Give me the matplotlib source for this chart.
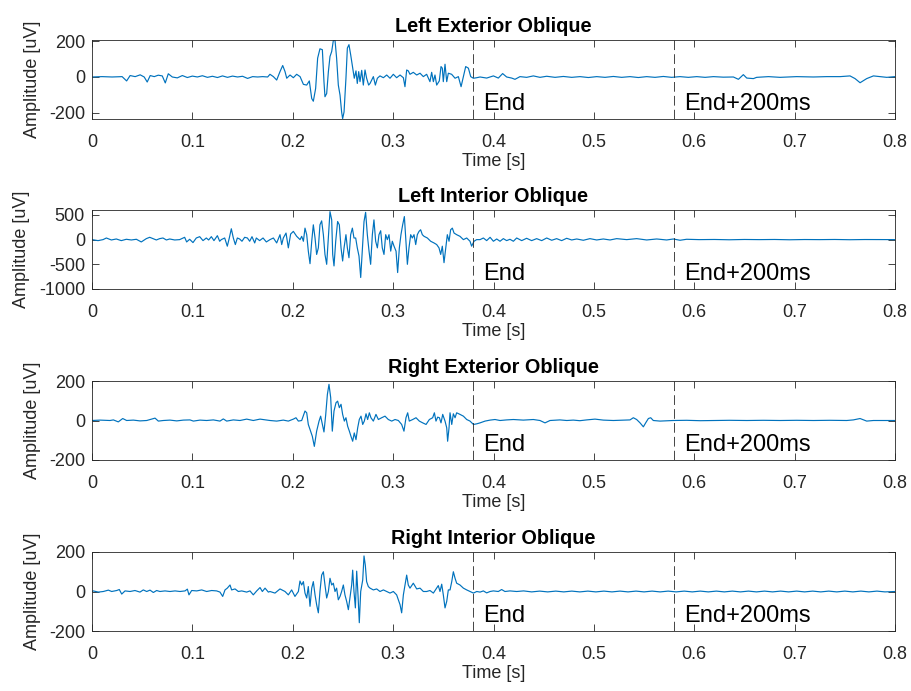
import numpy as np
import matplotlib
matplotlib.use("Agg")
import matplotlib.pyplot as plt

plt.rcParams["font.family"] = ["Liberation Sans", "DejaVu Sans"]
plt.rcParams["lines.scale_dashes"] = False

# ---------------------------------------------------------------------------
# Chart text and axis settings
# ---------------------------------------------------------------------------
TITLES = ["Left Exterior Oblique", "Left Interior Oblique",
          "Right Exterior Oblique", "Right Interior Oblique"]
Y_LIMITS = [(-234, 206), (-1000, 600), (-200, 200), (-200, 200)]
Y_TICKS = [[-200, 0, 200], [-1000, -500, 0, 500], [-200, 0, 200], [-200, 0, 200]]
X_TICKS = [0, 0.1, 0.2, 0.3, 0.4, 0.5, 0.6, 0.7, 0.8]
X_TICK_LABELS = ["0", "0.1", "0.2", "0.3", "0.4", "0.5", "0.6", "0.7", "0.8"]
MARKER_TIMES = [0.38, 0.58]
MARKER_LABELS = ["End", "End+200ms"]

# ---------------------------------------------------------------------------
# EMG traces: (time [s], amplitude [uV])
# ---------------------------------------------------------------------------
LEFT_EXTERIOR = [
    (0.0000, 0), (0.0100, 2), (0.0200, 0), (0.0300, 2), (0.0345, -22), (0.0380, 8),
    (0.0430, 2), (0.0480, 12), (0.0520, 0), (0.0550, -28), (0.0580, 8), (0.0620, 2),
    (0.0660, 10), (0.0700, 6), (0.0730, -33), (0.0760, 18), (0.0800, 0), (0.0850, -5),
    (0.0900, 8), (0.0950, -3), (0.1000, 5), (0.1050, 0), (0.1100, 7), (0.1150, -2),
    (0.1200, 4), (0.1250, -3), (0.1300, 6), (0.1350, -2), (0.1400, 5), (0.1450, 0),
    (0.1500, 4), (0.1550, -8), (0.1600, 2), (0.1650, 0), (0.1700, 2), (0.1750, 0),
    (0.1773, 15), (0.1807, 2), (0.1840, -17), (0.1873, 30), (0.1900, 64), (0.1923, 30),
    (0.1940, -7), (0.1973, 11), (0.2006, -4), (0.2039, 15), (0.2073, 2), (0.2106, -41),
    (0.2139, -45), (0.2165, -22), (0.2189, -120), (0.2205, -135), (0.2228, -64),
    (0.2248, 105), (0.2271, 157), (0.2295, 152), (0.2311, -26), (0.2321, -110),
    (0.2338, -92), (0.2355, 30), (0.2371, 114), (0.2388, 142), (0.2404, 202),
    (0.2421, 205), (0.2437, 105), (0.2454, -45), (0.2471, -101), (0.2487, -195),
    (0.2497, -232), (0.2511, -195), (0.2530, -7), (0.2544, 161), (0.2560, 180),
    (0.2577, 124), (0.2597, 49), (0.2613, -7), (0.2630, 34), (0.2643, -36),
    (0.2657, 30), (0.2670, -26), (0.2687, 37), (0.2703, -45), (0.2720, 39),
    (0.2736, -7), (0.2756, -45), (0.2770, -36), (0.2803, 2), (0.2823, -45),
    (0.2843, -7), (0.2869, 6), (0.2903, -4), (0.2936, 11), (0.2969, -7), (0.3002, 15),
    (0.3035, -4), (0.3069, 11), (0.3102, -4), (0.3118, -54), (0.3135, 39), (0.3151, 34),
    (0.3168, 15), (0.3201, 26), (0.3235, 11), (0.3268, 21), (0.3301, 2), (0.3334, 15),
    (0.3367, -26), (0.3384, 26), (0.3401, -26), (0.3417, 11), (0.3434, -45),
    (0.3460, -22), (0.3477, 58), (0.3490, 49), (0.3500, -26), (0.3517, 71),
    (0.3534, -26), (0.3550, 21), (0.3583, 15), (0.3617, -7), (0.3650, 2),
    (0.3677, -54), (0.3700, 2), (0.3723, 58), (0.3750, 49), (0.3773, 2), (0.3800, -7),
    (0.3833, -4), (0.3866, 0), (0.3932, -6), (0.3999, 6), (0.4048, -6), (0.4091, 19),
    (0.4131, 0), (0.4181, -6), (0.4214, -13), (0.4264, 2), (0.4330, -2), (0.4397, 6),
    (0.4463, -2), (0.4530, 4), (0.4613, -2), (0.4696, 3), (0.4779, -2), (0.4862, 2),
    (0.4945, -3), (0.5028, 2), (0.5111, -2), (0.5194, 3), (0.5277, -2), (0.5360, 2),
    (0.5443, -3), (0.5526, 2), (0.5609, -2), (0.5692, 3), (0.5775, -2), (0.5858, 2),
    (0.5941, -2), (0.6025, 2), (0.6108, -2), (0.6191, 2), (0.6290, -1), (0.6390, 0),
    (0.6440, -13), (0.6489, 13), (0.6523, -6), (0.6589, -9), (0.6622, -2),
    (0.6740, 2), (0.6855, -2), (0.7020, 2), (0.7187, 0), (0.7320, 2), (0.7453, 2),
    (0.7552, 6), (0.7602, -9), (0.7652, -32), (0.7718, -9), (0.7785, 6), (0.7851, 2),
    (0.7918, -2), (0.8000, 2),
]

LEFT_INTERIOR = [
    (0.0000, 0), (0.0060, -20), (0.0110, 0), (0.0143, 33), (0.0193, -7), (0.0242, 13),
    (0.0292, -20), (0.0342, 7), (0.0392, -7), (0.0442, 7), (0.0491, -47), (0.0541, 20),
    (0.0575, 47), (0.0608, 20), (0.0641, -7), (0.0674, 20), (0.0707, 33), (0.0741, -7),
    (0.0774, 13), (0.0824, -7), (0.0873, 0), (0.0923, 47), (0.0943, -47), (0.0973, 7),
    (0.1006, -60), (0.1039, 33), (0.1073, 60), (0.1106, -20), (0.1139, 33),
    (0.1162, -7), (0.1189, 60), (0.1215, -20), (0.1249, 80), (0.1272, -33),
    (0.1288, 0), (0.1322, 33), (0.1348, -133), (0.1368, 33), (0.1388, 220),
    (0.1408, 33), (0.1428, -100), (0.1448, 33), (0.1471, 13), (0.1494, -33),
    (0.1521, 47), (0.1548, 33), (0.1571, -33), (0.1594, 60), (0.1621, -67),
    (0.1637, 33), (0.1670, -20), (0.1704, 33), (0.1737, -47),
    (0.1773, 0), (0.1807, 33), (0.1840, -67), (0.1873, 100), (0.1890, -100),
    (0.1906, 33), (0.1933, 133), (0.1956, -167), (0.1979, 113), (0.2006, 167),
    (0.2039, 67), (0.2073, 0), (0.2089, 67), (0.2106, -33), (0.2122, 233),
    (0.2139, 100), (0.2155, -233), (0.2172, -487), (0.2189, -33), (0.2205, 300),
    (0.2222, 33), (0.2238, -300), (0.2255, -167), (0.2271, 300), (0.2288, 380),
    (0.2305, 100), (0.2321, -300), (0.2338, -500), (0.2355, 33), (0.2371, 567),
    (0.2388, 400), (0.2398, -300), (0.2411, -533), (0.2428, -33), (0.2447, 367),
    (0.2464, 300), (0.2481, -167), (0.2497, -433), (0.2511, -167), (0.2530, 100),
    (0.2544, -167), (0.2560, -367), (0.2577, 100), (0.2594, 233), (0.2610, 33),
    (0.2627, 33), (0.2643, -167), (0.2660, -333), (0.2677, -767), (0.2693, -233),
    (0.2710, 367), (0.2726, 553), (0.2743, 100), (0.2760, -233), (0.2776, -500),
    (0.2793, 100), (0.2809, 400), (0.2826, -33), (0.2843, -167), (0.2859, 100),
    (0.2876, 180), (0.2892, -167), (0.2909, -300), (0.2926, 100), (0.2942, 0),
    (0.2959, 100), (0.2976, -233), (0.2992, -33), (0.3009, -133), (0.3029, -233),
    (0.3045, -667), (0.3062, -167), (0.3078, 100), (0.3095, 300), (0.3112, 467),
    (0.3128, -33), (0.3142, -500), (0.3158, -167), (0.3175, 100), (0.3191, 33),
    (0.3208, 100), (0.3225, -100), (0.3241, 100), (0.3258, 167), (0.3274, 200),
    (0.3291, 100), (0.3308, 67), (0.3341, 33), (0.3374, -33), (0.3407, -67),
    (0.3434, -100), (0.3457, -167), (0.3474, -300), (0.3490, -133), (0.3507, -467),
    (0.3524, -167), (0.3540, 100), (0.3557, -33), (0.3573, 200), (0.3590, 233),
    (0.3607, 133), (0.3633, 100), (0.3666, 67), (0.3700, 0), (0.3733, 33),
    (0.3766, -33), (0.3782, -133), (0.3806, -33), (0.3832, 0),
    (0.3866, 0), (0.3899, 33), (0.3932, -20), (0.3966, 47), (0.3999, -33),
    (0.4032, 13), (0.4065, -33), (0.4098, 20), (0.4131, -20), (0.4164, 7),
    (0.4198, -33), (0.4231, 33), (0.4281, -20), (0.4330, 27), (0.4380, -20),
    (0.4430, 20), (0.4480, -20), (0.4530, 33), (0.4580, -13), (0.4629, 20),
    (0.4679, -20), (0.4729, 27), (0.4779, -7), (0.4829, 13), (0.4895, -13),
    (0.4961, 20), (0.5028, -7), (0.5094, 13), (0.5161, -7), (0.5227, 20),
    (0.5327, 0), (0.5426, 20), (0.5526, -7), (0.5626, 13), (0.5725, -7),
    (0.5792, 13), (0.5858, -13), (0.5924, 7), (0.6050, 0), (0.6200, 3),
    (0.6350, -3), (0.6500, 3), (0.6650, 0), (0.6800, 3), (0.6950, -3), (0.7100, 2),
    (0.7250, 0), (0.7400, 3), (0.7550, -2), (0.7700, 2), (0.7850, 0), (0.8000, 0),
]

RIGHT_EXTERIOR = [
    (0.0000, 0), (0.0080, 2), (0.0179, 0), (0.0213, 3), (0.0262, -7), (0.0306, 10),
    (0.0345, 0), (0.0412, 2), (0.0478, -2), (0.0545, 0), (0.0628, 12), (0.0661, -3),
    (0.0711, 0), (0.0777, 2), (0.0844, -2), (0.0910, 2), (0.0976, 3), (0.1010, -3),
    (0.1076, 2), (0.1142, 0), (0.1209, 3), (0.1275, -3), (0.1308, 8), (0.1342, -3),
    (0.1408, 3), (0.1474, 0), (0.1541, 7), (0.1607, 0), (0.1674, 7), (0.1740, 2),
    (0.1773, 0), (0.1840, -3), (0.1906, 2), (0.1956, -3), (0.2006, 7), (0.2032, 14),
    (0.2056, -3), (0.2089, 0), (0.2122, 48), (0.2139, 39), (0.2155, -20),
    (0.2178, -54), (0.2195, -80), (0.2215, -131), (0.2238, -54), (0.2262, -3),
    (0.2278, 22), (0.2295, -20), (0.2311, -58), (0.2328, 27), (0.2345, 132),
    (0.2361, 183), (0.2378, 116), (0.2394, -54), (0.2411, 48), (0.2431, 90),
    (0.2447, 98), (0.2464, 65), (0.2481, 82), (0.2497, 31), (0.2514, -3),
    (0.2530, 14), (0.2547, -29), (0.2564, -54), (0.2580, -80), (0.2597, -105),
    (0.2613, -63), (0.2630, -97), (0.2647, -37), (0.2663, 5), (0.2680, 22),
    (0.2697, -20), (0.2713, -3), (0.2730, 34), (0.2746, 5), (0.2763, 39),
    (0.2779, 14), (0.2803, -3), (0.2829, 31), (0.2853, 5), (0.2886, 14),
    (0.2919, 22), (0.2952, 5), (0.2986, -3), (0.3019, 5), (0.3052, 0),
    (0.3085, -20), (0.3108, -54), (0.3128, 14), (0.3145, 39), (0.3161, -3),
    (0.3195, 5), (0.3228, 14), (0.3261, -3), (0.3295, -12), (0.3328, -20),
    (0.3361, 5), (0.3394, 14), (0.3411, 39), (0.3427, -3), (0.3444, 17),
    (0.3461, 14), (0.3477, -12), (0.3494, 31), (0.3517, -3), (0.3534, -37),
    (0.3543, -105), (0.3557, -37), (0.3567, 39), (0.3584, -20), (0.3600, 34),
    (0.3617, 14), (0.3633, 39), (0.3666, 31), (0.3700, 22), (0.3733, 5),
    (0.3766, -3), (0.3800, -20), (0.3832, -17), (0.3866, -12),
    (0.3916, -3), (0.3966, 2), (0.4015, 5), (0.4065, 0), (0.4131, 3), (0.4198, 5),
    (0.4297, 2), (0.4397, 5), (0.4463, 0), (0.4513, -12), (0.4563, 0), (0.4662, 3),
    (0.4730, 0), (0.4795, 2), (0.4860, -1), (0.4928, 3), (0.5011, 7), (0.5094, 2),
    (0.5194, 0), (0.5294, 2), (0.5360, 3), (0.5393, 14), (0.5426, 5), (0.5460, -12),
    (0.5493, -32), (0.5516, -12), (0.5543, 10), (0.5566, 14), (0.5592, 0),
    (0.5659, -3), (0.5792, 0), (0.5924, 1), (0.6060, -1), (0.6191, 0), (0.6350, 1),
    (0.6523, 0), (0.6690, 1), (0.6855, 0), (0.7020, 1), (0.7187, 0), (0.7350, 1),
    (0.7519, 0), (0.7585, 3), (0.7652, 10), (0.7718, -3), (0.7785, 0), (0.8000, 0),
]

RIGHT_INTERIOR = [
    (0.0000, 0), (0.0013, 3), (0.0063, -3), (0.0113, 0), (0.0163, 7), (0.0196, 0),
    (0.0246, 5), (0.0272, 10), (0.0296, -13), (0.0329, 3), (0.0379, 0), (0.0428, 5),
    (0.0478, -3), (0.0511, 8), (0.0545, 0), (0.0578, 7), (0.0611, -5), (0.0644, 5),
    (0.0677, 0), (0.0727, 3), (0.0777, 0), (0.0827, 3), (0.0877, 0), (0.0927, 3),
    (0.0950, 12), (0.0966, -17), (0.0993, 5), (0.1043, 3), (0.1093, 8), (0.1142, 0),
    (0.1192, 5), (0.1242, 3), (0.1275, -3), (0.1302, -25), (0.1325, 8), (0.1348, 17),
    (0.1375, 33), (0.1391, 8), (0.1425, 13), (0.1458, 0), (0.1491, 3), (0.1541, -3),
    (0.1574, 3), (0.1607, -17), (0.1641, 3), (0.1674, 20), (0.1697, 0), (0.1724, 17),
    (0.1757, -3),
    (0.1773, 0), (0.1823, -8), (0.1873, 13), (0.1923, 0), (0.1956, -17), (0.1989, 8),
    (0.2022, -25), (0.2056, 0), (0.2072, 53), (0.2089, 33), (0.2106, 50),
    (0.2122, -8), (0.2139, -33), (0.2155, 25), (0.2172, -75), (0.2189, 17),
    (0.2205, 50), (0.2222, -17), (0.2238, -67), (0.2255, -108), (0.2271, 0),
    (0.2288, 83), (0.2305, 100), (0.2321, 33), (0.2338, -33), (0.2355, 0),
    (0.2371, 67), (0.2388, 33), (0.2404, 42), (0.2421, 0), (0.2437, 17),
    (0.2454, -42), (0.2471, -25), (0.2487, 0), (0.2504, 33), (0.2520, -17),
    (0.2537, -50), (0.2554, -92), (0.2570, -33), (0.2587, 33), (0.2597, 108),
    (0.2610, 0), (0.2624, -83), (0.2637, 103), (0.2650, -17), (0.2663, -158),
    (0.2677, 0), (0.2697, 58), (0.2710, 180), (0.2723, 133), (0.2736, 50),
    (0.2753, 25), (0.2770, 17), (0.2803, 8), (0.2836, 13), (0.2869, 0), (0.2903, 8),
    (0.2936, 0), (0.2969, -8), (0.3002, 0), (0.3035, -17), (0.3069, -67),
    (0.3085, -108), (0.3102, -17), (0.3118, 33), (0.3135, 83), (0.3151, 33),
    (0.3168, 17), (0.3201, 42), (0.3235, 13), (0.3268, 17), (0.3301, 0),
    (0.3334, 0), (0.3367, 5), (0.3401, -8), (0.3434, 17), (0.3450, 30), (0.3467, 0),
    (0.3484, 37), (0.3500, -17), (0.3517, -83), (0.3534, -50), (0.3550, 8),
    (0.3567, 8), (0.3584, 50), (0.3600, 100), (0.3617, 67), (0.3633, 42),
    (0.3666, 33), (0.3700, 17), (0.3733, 8), (0.3766, 0), (0.3800, -8), (0.3833, 0),
    (0.3866, -3), (0.3899, 3), (0.3932, -7), (0.3966, 0), (0.3999, 3), (0.4048, 0),
    (0.4081, 10), (0.4114, 0), (0.4164, 3), (0.4231, 0), (0.4300, 3), (0.4380, -2),
    (0.4460, 2), (0.4540, -2), (0.4620, 2), (0.4700, -2), (0.4780, 2), (0.4860, -2),
    (0.4940, 2), (0.5020, -2), (0.5100, 2), (0.5180, -2), (0.5260, 2), (0.5340, -2),
    (0.5420, 2), (0.5500, -2), (0.5580, 2), (0.5660, -2), (0.5740, 2), (0.5820, -2),
    (0.5900, 2), (0.5980, -2), (0.6060, 2), (0.6140, -2), (0.6220, 2), (0.6300, -2),
    (0.6380, 2), (0.6460, -2), (0.6540, 2), (0.6620, -2), (0.6700, 2), (0.6780, -2),
    (0.6860, 2), (0.6940, -2), (0.7020, 2), (0.7100, -2), (0.7180, 2), (0.7260, -2),
    (0.7340, 2), (0.7420, -2), (0.7500, 2), (0.7580, -2), (0.7660, 2), (0.7740, -2),
    (0.7820, 2), (0.7900, -2), (0.8000, 0),
]

TRACES = [LEFT_EXTERIOR, LEFT_INTERIOR, RIGHT_EXTERIOR, RIGHT_INTERIOR]

# ---------------------------------------------------------------------------
# Figure layout (pixel boxes for the four stacked panels)
# ---------------------------------------------------------------------------
W, H = 911, 691
PANEL_TOPS = [40, 210, 381, 552]
PANEL_HEIGHT = 79
LEFT, RIGHT = 92, 895

TEXT_COLOR = "#262626"
LINE_COLOR = "#0072BD"

fig = plt.figure(figsize=(W / 100, H / 100), dpi=100)

for i, trace in enumerate(TRACES):
    top = PANEL_TOPS[i]
    ax = fig.add_axes([LEFT / W, 1 - (top + PANEL_HEIGHT) / H,
                       (RIGHT - LEFT) / W, PANEL_HEIGHT / H])
    t, amp = np.array(trace, dtype=float).T
    ax.plot(t, amp, color=LINE_COLOR, lw=0.85)

    ax.set_xlim(0, 0.8)
    ax.set_ylim(*Y_LIMITS[i])
    ax.set_xticks(X_TICKS)
    ax.set_xticklabels(X_TICK_LABELS)
    ax.set_yticks(Y_TICKS[i])
    ax.set_yticklabels([str(v) for v in Y_TICKS[i]])

    for sp in ax.spines.values():
        sp.set_color(TEXT_COLOR)
        sp.set_linewidth(0.6)
    ax.tick_params(direction="in", top=True, right=True, length=5, width=0.6,
                   color=TEXT_COLOR, labelcolor=TEXT_COLOR, labelsize=13)
    ax.tick_params(axis="x", pad=11)
    ax.tick_params(axis="y", pad=5)

    ax.set_title(TITLES[i], fontsize=14.3, fontweight="bold", color="black", pad=6)
    ax.set_xlabel("Time [s]", fontsize=13, color=TEXT_COLOR, labelpad=1.5)
    ax.set_ylabel("Amplitude [uV]", fontsize=13, color=TEXT_COLOR, labelpad=6)

    for x, label in zip(MARKER_TIMES, MARKER_LABELS):
        ax.axvline(x, color="#262626", lw=0.6, linestyle=(0, (7, 3)))
        ax.text(x + 0.0095, 0.114, label, transform=ax.get_xaxis_transform(),
                fontsize=17, color="black", ha="left", va="baseline")

fig.savefig("out.png", dpi=100)
